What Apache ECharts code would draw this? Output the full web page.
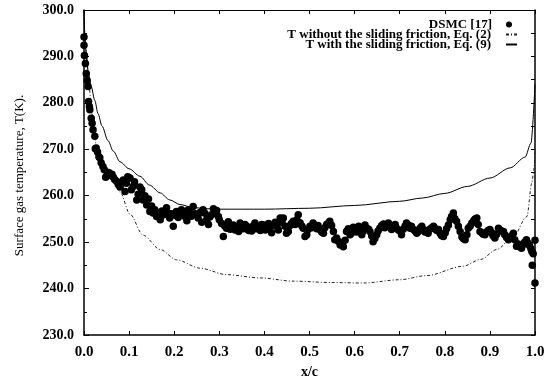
<!DOCTYPE html>
<html>
<head>
<meta charset="utf-8">
<script src="https://cdn.jsdelivr.net/npm/echarts@6/dist/echarts.min.js"></script>
<style>
html,body{margin:0;padding:0;background:#fff;}
#chart{width:547px;height:381px;}
</style>
</head>
<body>
<div id="chart"></div>
<script>
// ---- Data ----
const xTicks = [0.0,0.1,0.2,0.3,0.4,0.5,0.6,0.7,0.8,0.9,1.0];
const yTicks = [230.0,240.0,250.0,260.0,270.0,280.0,290.0,300.0];

const seriesNames = ["DSMC [17]", "T without the sliding friction, Eq. (2)", "T with the sliding friction, Eq. (9)"];

// DSMC [17] points: [x/c, T]
const dsmc = [
[0.000,294.2],[0.000,292.4],[0.001,290.2],[0.003,288.5],[0.005,286.3],[0.007,284.8],[0.009,283.5],[0.010,280.3],[0.012,279.2],[0.013,278.5],
[0.016,276.7],[0.018,275.6],[0.020,274.2],[0.024,272.8],[0.025,270.1],[0.027,270.3],[0.030,269.4],[0.033,268.4],[0.035,268.2],[0.038,267.1],
[0.042,266.3],[0.045,265.6],[0.048,264.0],[0.050,264.2],[0.055,265.0],[0.058,264.5],[0.062,264.6],[0.065,264.0],[0.068,263.5],[0.072,263.1],
[0.076,262.4],[0.080,261.9],[0.083,262.7],[0.087,263.4],[0.091,260.9],[0.094,262.7],[0.097,264.1],[0.102,263.8],[0.105,261.3],[0.109,262.0],
[0.112,263.0],[0.117,259.1],[0.120,260.3],[0.124,261.9],[0.128,261.3],[0.131,259.1],[0.135,260.0],[0.139,258.0],[0.143,259.3],[0.146,256.6],
[0.150,257.8],[0.153,256.3],[0.157,257.0],[0.161,255.5],[0.165,256.3],[0.169,254.8],[0.173,256.7],[0.177,255.9],[0.180,256.0],[0.183,257.4],
[0.187,256.2],[0.190,255.2],[0.194,256.1],[0.198,253.4],[0.202,255.8],[0.205,256.6],[0.209,255.3],[0.213,256.2],[0.216,257.0],[0.220,256.4],
[0.224,255.5],[0.228,254.6],[0.231,256.9],[0.235,256.3],[0.238,255.6],[0.242,257.7],[0.246,256.1],[0.250,255.9],[0.253,255.2],[0.257,256.4],
[0.261,254.3],[0.264,257.0],[0.268,256.2],[0.272,254.8],[0.276,253.8],[0.279,255.4],[0.283,255.9],[0.287,257.2],[0.290,256.6],[0.294,256.8],
[0.298,255.5],[0.300,254.8],[0.305,254.0],[0.309,251.2],[0.312,253.5],[0.316,253.0],[0.320,254.4],[0.324,252.8],[0.328,253.1],[0.331,253.7],
[0.335,252.6],[0.339,253.2],[0.343,252.3],[0.346,254.1],[0.350,253.6],[0.354,252.9],[0.357,253.8],[0.361,253.4],[0.365,252.5],[0.369,253.1],
[0.372,252.4],[0.376,253.6],[0.379,254.1],[0.383,252.9],[0.387,253.3],[0.391,252.5],[0.394,253.8],[0.398,253.7],[0.402,252.6],[0.405,253.5],
[0.409,254.0],[0.412,253.0],[0.416,252.0],[0.420,253.7],[0.424,254.3],[0.428,253.3],[0.431,252.6],[0.435,255.2],[0.439,254.3],[0.442,255.2],
[0.446,253.4],[0.449,251.9],[0.453,252.3],[0.457,253.6],[0.460,254.0],[0.464,254.5],[0.468,253.8],[0.472,254.8],[0.475,255.9],[0.479,254.2],
[0.483,253.5],[0.486,253.0],[0.490,251.2],[0.494,251.6],[0.497,252.7],[0.501,253.4],[0.505,253.1],[0.508,254.1],[0.512,253.3],[0.516,252.9],
[0.519,253.6],[0.523,252.7],[0.527,252.2],[0.531,251.9],[0.534,253.1],[0.538,253.8],[0.541,254.0],[0.545,254.5],[0.549,253.6],[0.553,252.3],
[0.556,250.5],[0.560,250.9],[0.564,250.2],[0.568,249.4],[0.571,249.8],[0.575,249.0],[0.579,250.4],[0.582,252.3],[0.586,252.9],[0.590,251.6],
[0.594,252.0],[0.597,253.2],[0.601,252.7],[0.605,252.2],[0.609,253.4],[0.612,252.6],[0.616,251.6],[0.620,252.5],[0.623,253.7],[0.627,253.0],
[0.631,252.8],[0.634,252.3],[0.638,251.3],[0.641,250.1],[0.645,250.8],[0.649,251.6],[0.652,252.4],[0.656,253.0],[0.660,253.6],[0.664,253.9],
[0.667,253.1],[0.671,253.4],[0.675,254.1],[0.679,253.5],[0.682,252.7],[0.686,253.2],[0.690,253.8],[0.693,253.0],[0.697,252.6],[0.701,252.4],
[0.704,251.6],[0.708,252.8],[0.712,253.5],[0.715,254.1],[0.719,253.7],[0.723,253.0],[0.726,253.4],[0.730,252.8],[0.734,252.4],[0.738,251.9],
[0.741,252.3],[0.745,253.0],[0.749,253.4],[0.752,252.7],[0.756,252.2],[0.760,252.5],[0.763,251.9],[0.767,252.8],[0.771,253.1],[0.775,253.4],
[0.778,253.0],[0.782,252.5],[0.786,252.7],[0.790,251.8],[0.793,251.4],[0.797,251.2],[0.801,252.0],[0.804,252.9],[0.808,253.7],[0.812,254.8],
[0.815,255.5],[0.819,256.3],[0.822,255.1],[0.826,254.5],[0.830,253.4],[0.834,252.3],[0.838,251.1],[0.841,250.8],[0.845,250.5],[0.849,251.6],
[0.852,253.0],[0.856,253.4],[0.860,254.1],[0.864,254.6],[0.867,255.0],[0.871,255.2],[0.874,253.8],[0.878,252.3],[0.882,252.0],[0.885,251.7],
[0.889,251.6],[0.893,252.2],[0.896,252.5],[0.900,252.7],[0.904,252.0],[0.907,251.4],[0.911,250.9],[0.915,251.7],[0.919,253.0],[0.922,252.6],
[0.926,252.4],[0.930,252.3],[0.933,251.6],[0.937,251.0],[0.941,250.5],[0.944,251.0],[0.948,251.4],[0.952,251.9],[0.955,250.5],[0.959,249.1],
[0.963,249.6],[0.966,249.0],[0.970,248.7],[0.974,249.5],[0.977,250.0],[0.981,250.5],[0.984,249.8],[0.988,249.2],[0.991,248.6],[0.993,248.0],
[0.994,245.0],[0.996,247.5],[1.000,250.4],[1.000,241.2]
];

// T without the sliding friction, Eq. (2)
const noFrictionX = [0.000,0.003,0.009,0.015,0.020,0.027,0.040,0.058,0.080,0.102,0.131,0.169,0.205,0.257,0.316,0.390,0.464,0.550,0.620,0.700,0.760,0.840,0.880,0.915,0.952,0.982,0.993,0.998,1.000];
const noFrictionT = [300.0,292.0,286.5,280.7,275.5,271.0,267.5,264.5,260.8,256.0,251.5,248.4,246.2,244.4,243.0,242.3,241.6,241.3,241.2,241.9,242.8,244.8,246.3,248.4,251.2,255.5,262.7,266.0,270.0];

// T with the sliding friction, Eq. (9)
const frictionX = [0.000,0.002,0.005,0.010,0.016,0.024,0.031,0.040,0.053,0.065,0.080,0.100,0.124,0.145,0.169,0.190,0.213,0.240,0.270,0.300,0.400,0.500,0.600,0.700,0.750,0.800,0.850,0.900,0.945,0.978,0.991,1.000];
const frictionT = [300.0,294.5,290.7,286.2,283.5,280.5,277.7,275.0,271.9,269.6,267.3,265.8,264.2,262.3,260.6,259.1,258.1,257.5,257.2,257.1,257.1,257.3,257.9,258.8,259.5,260.5,262.0,263.8,266.0,268.3,271.3,284.0];

// ---- Chart ----
const FONT = '"Liberation Serif", "Times New Roman", serif';
const pair = (xs, ys) => xs.map((x, i) => [x, ys[i]]);

const legendText = {fontFamily: FONT, fontSize: 13, fontWeight: 'bold', color: '#000', lineHeight: 11};
function legendFor(name, opts) {
  return Object.assign({
    orient: 'vertical', align: 'right', padding: 0, itemGap: 0,
    selectedMode: false,
    data: [name]
  }, opts);
}

const chart = echarts.init(document.getElementById('chart'), null, {renderer: 'canvas'});
chart.setOption({
  animation: false,
  backgroundColor: '#ffffff',
  grid: {left: 84, right: 12, top: 10, bottom: 46, containLabel: false, outerBoundsMode: 'none'},
  legend: [
    legendFor(seriesNames[0], {
      right: 35, top: 18, itemWidth: 6, itemHeight: 6,
      data: [{name: seriesNames[0], icon: 'circle', itemStyle: {color: '#000', opacity: 1}}],
      textStyle: Object.assign({padding: [0, 9, 0, 0]}, legendText)
    }),
    legendFor(seriesNames[1], {
      right: 29, top: 28, itemWidth: 11, itemHeight: 7,
      data: [{name: seriesNames[1], itemStyle: {opacity: 0}}],
      textStyle: Object.assign({padding: [0, 10, 0, 0]}, legendText)
    }),
    legendFor(seriesNames[2], {
      right: 29, top: 38, itemWidth: 11, itemHeight: 7,
      data: [{name: seriesNames[2], itemStyle: {opacity: 0}}],
      textStyle: Object.assign({padding: [0, 10, 0, 0]}, legendText)
    })
  ],
  xAxis: [{
    type: 'value', min: 0, max: 1, interval: 0.1,
    name: 'x/c', nameLocation: 'middle', nameGap: 29,
    nameTextStyle: {fontFamily: FONT, fontSize: 14, fontWeight: 'bold', color: '#000'},
    axisLine: {show: true, onZero: false, lineStyle: {color: '#000', width: 1.5}},
    axisTick: {show: true, inside: true, length: 4, lineStyle: {color: '#000'}},
    axisLabel: {fontFamily: FONT, fontSize: 15, fontWeight: 'bold', color: '#000', margin: 10,
      formatter: v => xTicks.find(t => Math.abs(t - v) < 1e-6).toFixed(1)},
    splitLine: {show: false}
  }, {
    type: 'value', min: 0, max: 1, interval: 0.1, position: 'top',
    axisLine: {show: true, onZero: false, lineStyle: {color: '#000', width: 1}},
    axisTick: {show: true, inside: true, length: 4, lineStyle: {color: '#000'}},
    axisLabel: {show: false}, splitLine: {show: false}
  }],
  yAxis: [{
    type: 'value', min: 230, max: 300, interval: 10,
    name: 'Surface gas temperature, T(K).', nameLocation: 'middle', nameGap: 58,
    nameTextStyle: {fontFamily: FONT, fontSize: 13, color: '#000', padding: [0, 6, 0, 0]},
    axisLine: {show: true, onZero: false, lineStyle: {color: '#000', width: 1.5}},
    axisTick: {show: true, inside: true, length: 5, lineStyle: {color: '#000'}},
    minorTick: {show: true, splitNumber: 2, length: 3, lineStyle: {color: '#000'}},
    axisLabel: {fontFamily: FONT, fontSize: 14, fontWeight: 'bold', color: '#000', margin: 10,
      formatter: v => yTicks.find(t => Math.abs(t - v) < 1e-6).toFixed(1)},
    splitLine: {show: false}
  }, {
    type: 'value', min: 230, max: 300, interval: 5, position: 'right',
    axisLine: {show: true, onZero: false, lineStyle: {color: '#000', width: 1.5}},
    axisTick: {show: true, inside: true, length: 4, lineStyle: {color: '#000'}},
    axisLabel: {show: false}, splitLine: {show: false}
  }],
  series: [
    {
      name: seriesNames[0], type: 'scatter', data: dsmc,
      symbol: 'circle', symbolSize: 7.5,
      itemStyle: {color: '#000', opacity: 1}, z: 3
    },
    {
      name: seriesNames[1], type: 'line', data: pair(noFrictionX, noFrictionT),
      showSymbol: false, symbol: 'none', smooth: 0.3, smoothMonotone: 'x',
      lineStyle: {color: '#222', width: 1, type: [3, 2, 1, 2]},
      itemStyle: {color: '#222'}, z: 2
    },
    {
      name: seriesNames[2], type: 'line', data: pair(frictionX, frictionT),
      showSymbol: false, symbol: 'none', smooth: 0.3, smoothMonotone: 'x',
      lineStyle: {color: '#000', width: 1},
      itemStyle: {color: '#000'}, z: 2
    }
  ]
});
</script>
</body>
</html>
